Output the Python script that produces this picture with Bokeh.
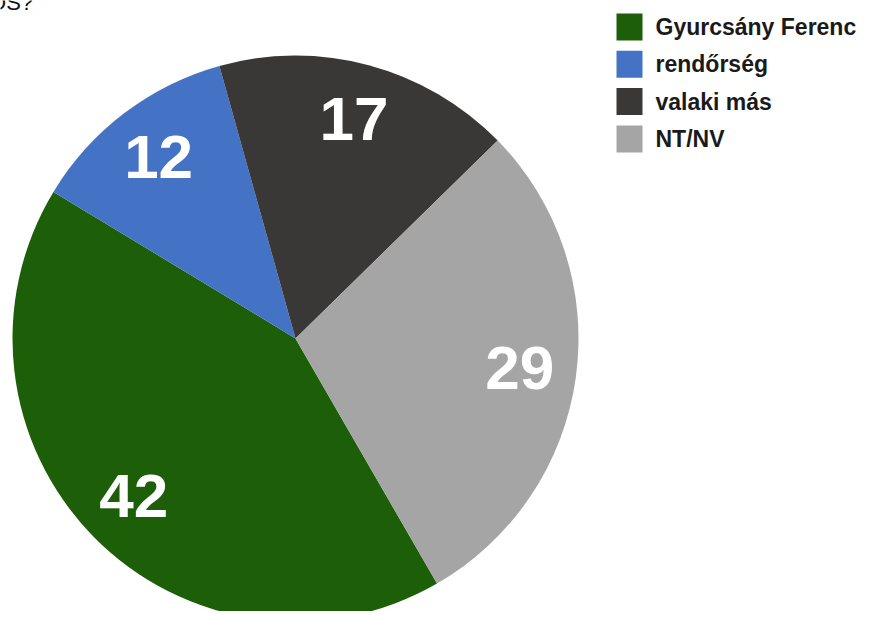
import numpy as np
from bokeh.plotting import figure
from bokeh.models import Range1d, ColumnDataSource
from bokeh.core.properties import value
from bokeh.embed import file_html
from bokeh.resources import INLINE

# ---- data ----
title_text = "KI A FELELŐS?"
categories = ["Gyurcsány Ferenc", "rendőrség", "valaki más", "NT/NV"]
values = [42, 12, 17, 29]
colors = ["#1c5f08", "#4472c4", "#3a3837", "#a5a5a5"]

# ---- layout / style ----
W, H = 862, 611
OFF = 0


def sx(px):  # screen px -> data x
    return px - OFF


def sy(py):  # screen py -> data y
    return H - (py - OFF)


cx, cy, R = sx(295), sy(338), 283
start_deg = -60.0  # first slice starts here, going clockwise

vals = np.array(values, dtype=float)
spans = vals / vals.sum() * 2 * np.pi
cum = np.concatenate([[0], np.cumsum(spans)])
start0 = np.deg2rad(start_deg)
ends = start0 - cum[:-1]
starts = start0 - cum[1:]
mids = (starts + ends) / 2

p = figure(width=W, height=H, output_backend="svg", toolbar_location=None,
           x_range=Range1d(0, W), y_range=Range1d(0, H),
           x_axis_location=None, y_axis_location=None, min_border=0,
           tools="")
p.grid.visible = False
p.outline_line_color = None
p.background_fill_color = "white"

# title, mostly cut off at the top edge as in the original
p.text(x=[sx(35)], y=[sy(1.5)], text=[title_text], text_font=value("Liberation Sans"),
       text_font_size="22px", text_color="#111111", text_align="right",
       text_baseline="alphabetic")

src = ColumnDataSource(dict(start=starts, end=ends, color=colors, cat=categories))
p.wedge(x=cx, y=cy, radius=R, start_angle="start", end_angle="end",
        direction="anticlock", fill_color="color", line_color=None, source=src)

lr = 0.80 * R
lab = ColumnDataSource(dict(x=cx + lr * np.cos(mids), y=cy + lr * np.sin(mids) + 1,
                            t=[str(v) for v in values]))
p.text(x="x", y="y", text="t", source=lab, text_font=value("Liberation Sans"),
       text_font_style="bold", text_font_size="62px", text_color="white",
       text_align="center", text_baseline="middle")

# legend
row0, step = 26.5, 37.3
ly = [sy(row0 + i * step) for i in range(len(categories))]
leg = ColumnDataSource(dict(x=[sx(629)] * len(categories), y=ly, color=colors,
                            tx=[sx(655)] * len(categories), cat=categories))
p.rect(x="x", y="y", width=26, height=27, fill_color="color", line_color=None, source=leg)
p.text(x="tx", y="y", text="cat", source=leg, text_font=value("Liberation Sans"),
       text_font_style="bold", text_font_size="23px", text_color="#1a1a1a",
       text_align="left", text_baseline="middle")

open("out.html", "w").write(file_html(p, INLINE))
